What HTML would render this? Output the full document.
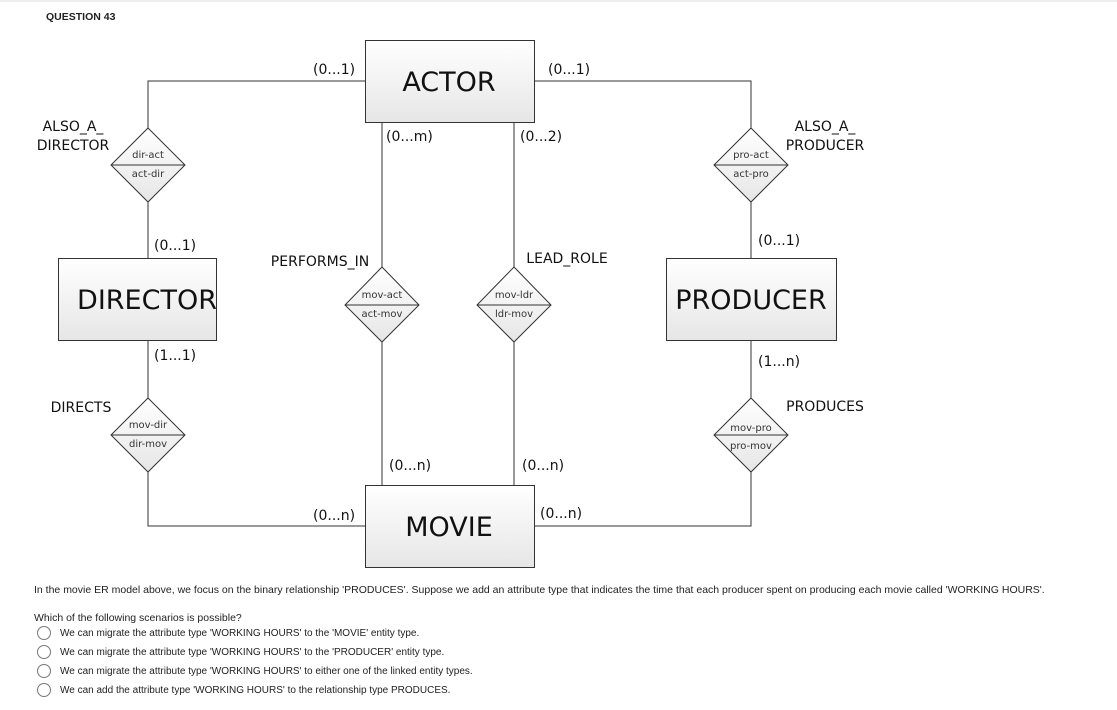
<!DOCTYPE html>
<html><head><meta charset="utf-8"><style>
html,body{margin:0;padding:0;background:#fff;}
body{width:1117px;height:710px;position:relative;overflow:hidden;font-family:"Liberation Sans",sans-serif;}
svg{position:absolute;left:0;top:0;}
.q{position:absolute;font-size:10.5px;color:#222;}
.o{position:absolute;left:40px;font-size:10px;color:#222;}
.o span{position:absolute;left:-3px;top:-2px;width:12px;height:12px;border:1.5px solid #777;border-radius:50%;}
.o b{font-weight:normal;position:absolute;left:20px;white-space:nowrap;}
</style></head><body>
<svg width="1117" height="710" xmlns="http://www.w3.org/2000/svg">
<defs>
<linearGradient id="g" x1="0" y1="0" x2="0" y2="1"><stop offset="0" stop-color="#ffffff"/><stop offset="1" stop-color="#e6e6e6"/></linearGradient>
</defs>
<line x1="0" y1="1" x2="1117" y2="1" stroke="#ddd"/>
<text x="46" y="20" font-family="Liberation Sans" font-weight="bold" font-size="10.5" fill="#222">QUESTION 43</text>
<g stroke="#333" stroke-width="1" fill="none">
<polyline points="365,81 148,81 148,128"/>
<line x1="148" y1="202" x2="148" y2="258"/>
<polyline points="535,81 751,81 751,128"/>
<line x1="751" y1="202" x2="751" y2="258"/>
<line x1="382" y1="122" x2="382" y2="267"/>
<line x1="382" y1="342" x2="382" y2="485"/>
<line x1="514" y1="122" x2="514" y2="267"/>
<line x1="514" y1="342" x2="514" y2="485"/>
<line x1="148" y1="340" x2="148" y2="398"/>
<polyline points="148,472 148,526 365,526"/>
<line x1="751" y1="341" x2="751" y2="398"/>
<polyline points="751,472 751,526 535,526"/>
</g>
<g stroke="#333" fill="url(#g)">
<rect x="365.5" y="40.5" width="169" height="82"/>
<rect x="58.5" y="258.5" width="158" height="82"/>
<rect x="666.5" y="258.5" width="170" height="82"/>
<rect x="365.5" y="485.5" width="169" height="82"/>
<polygon points="148,128 185,165 148,202 111,165"/>
<polygon points="751,128 788,165 751,202 714,165"/>
<polygon points="382,267 419,305 382,342 345,305"/>
<polygon points="514,267 551,305 514,342 477,305"/>
<polygon points="148,398 185,435 148,472 111,435"/>
<polygon points="751,398 788,435 751,472 714,435"/>
</g>
<g stroke="#333">
<line x1="111" y1="165" x2="185" y2="165"/><line x1="714" y1="165" x2="788" y2="165"/>
<line x1="345" y1="305" x2="419" y2="305"/><line x1="477" y1="305" x2="551" y2="305"/>
<line x1="111" y1="435" x2="185" y2="435"/><line x1="714" y1="435" x2="788" y2="435"/>
</g>
<g font-family="DejaVu Sans" fill="#111" text-anchor="middle">
<g font-size="27"><text x="449" y="91">ACTOR</text><text x="147" y="309">DIRECTOR</text><text x="751" y="309">PRODUCER</text><text x="449" y="536">MOVIE</text></g>
<g font-size="10" fill="#333">
<text x="148" y="158">dir-act</text><text x="148" y="177">act-dir</text>
<text x="751" y="158">pro-act</text><text x="751" y="177">act-pro</text>
<text x="382" y="298">mov-act</text><text x="382" y="317">act-mov</text>
<text x="514" y="298">mov-ldr</text><text x="514" y="317">ldr-mov</text>
<text x="148" y="428">mov-dir</text><text x="148" y="447">dir-mov</text>
<text x="751" y="431">mov-pro</text><text x="751" y="449">pro-mov</text>
</g>
<g font-size="14">
<text x="73" y="131">ALSO_A_</text><text x="73" y="150">DIRECTOR</text>
<text x="825" y="131">ALSO_A_</text><text x="825" y="150">PRODUCER</text>
<text x="320" y="266">PERFORMS_IN</text><text x="567" y="263">LEAD_ROLE</text>
<text x="81" y="412">DIRECTS</text><text x="825" y="411">PRODUCES</text>
</g>
<g font-size="14" text-anchor="start">
<text x="313" y="74">(0...1)</text><text x="548" y="74">(0...1)</text>
<text x="386" y="141">(0...m)</text><text x="520" y="141">(0...2)</text>
<text x="154" y="250">(0...1)</text><text x="758" y="245">(0...1)</text>
<text x="154" y="360">(1...1)</text><text x="758" y="366">(1...n)</text>
<text x="389" y="470">(0...n)</text><text x="522" y="470">(0...n)</text>
<text x="313" y="520">(0...n)</text><text x="540" y="518">(0...n)</text>
</g>
</g>
</svg>
<div class="q" style="left:34px;top:584px;white-space:nowrap;">In the movie ER model above, we focus on the binary relationship 'PRODUCES'. Suppose we add an attribute type that indicates the time that each producer spent on producing each movie called 'WORKING HOURS'.</div>
<div class="q" style="left:34px;top:612px;">Which of the following scenarios is possible?</div>
<div class="o" style="top:628px;"><span></span><b>We can migrate the attribute type 'WORKING HOURS' to the 'MOVIE' entity type.</b></div>
<div class="o" style="top:647px;"><span></span><b>We can migrate the attribute type 'WORKING HOURS' to the 'PRODUCER' entity type.</b></div>
<div class="o" style="top:666px;"><span></span><b>We can migrate the attribute type 'WORKING HOURS' to either one of the linked entity types.</b></div>
<div class="o" style="top:685px;"><span></span><b>We can add the attribute type 'WORKING HOURS' to the relationship type PRODUCES.</b></div>
</body></html>
